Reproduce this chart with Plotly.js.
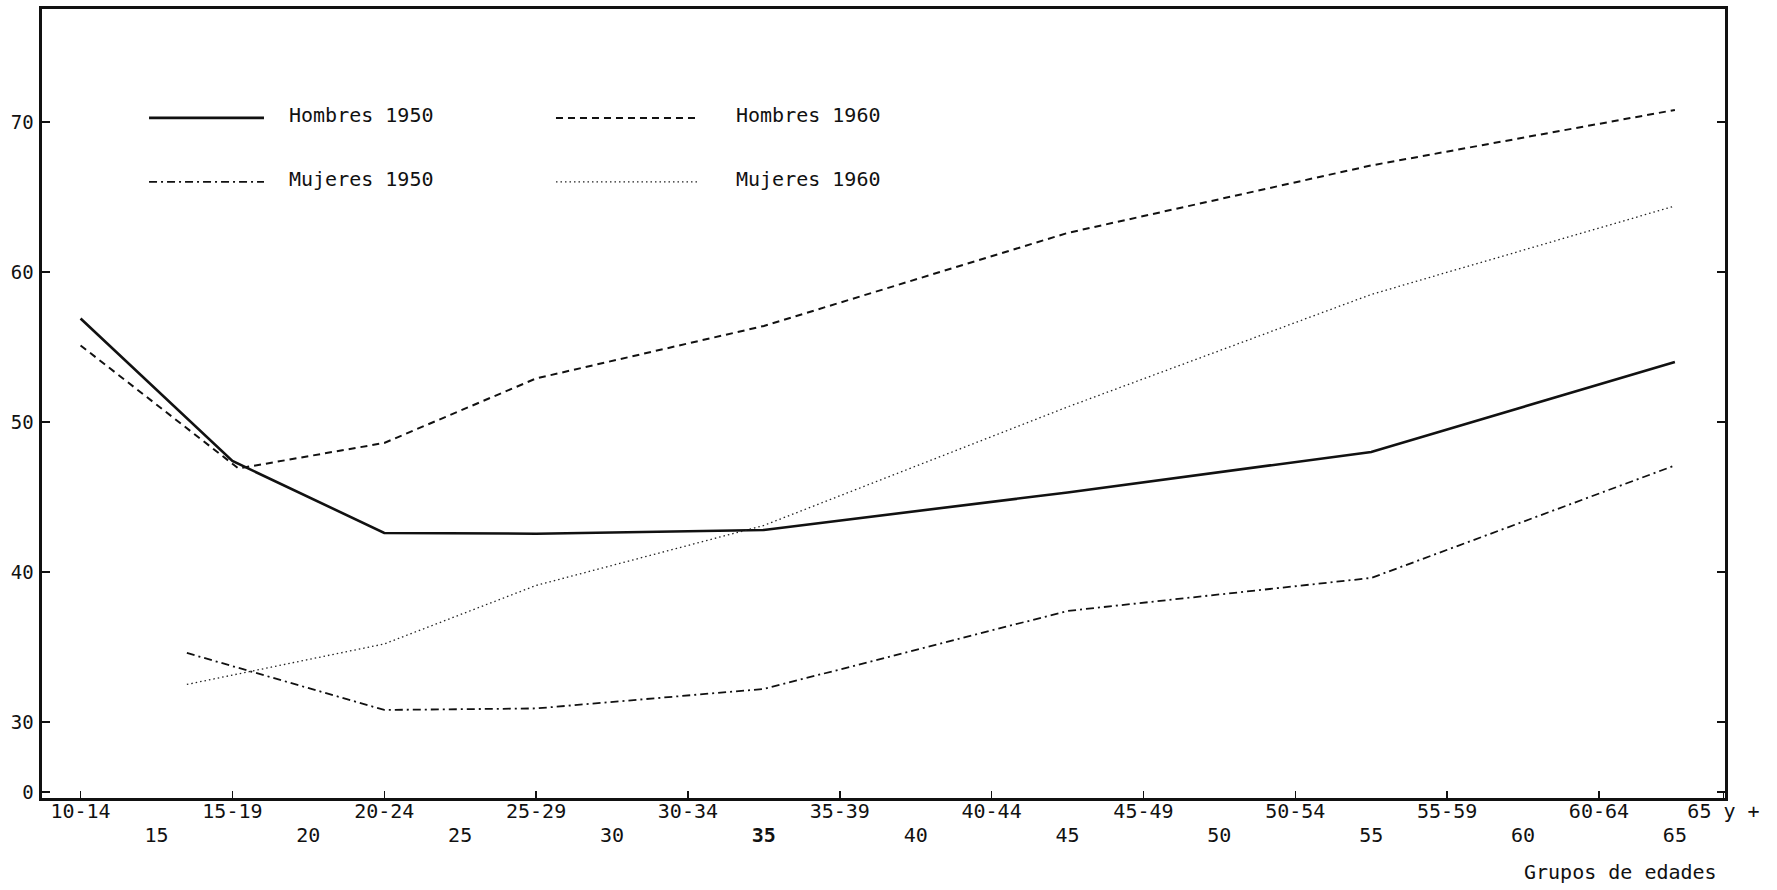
<!DOCTYPE html>
<html><head><meta charset="utf-8">
<script src="https://cdn.plot.ly/plotly-3.0.1.min.js"></script>
<style>html,body{margin:0;padding:0;background:#fff}#chart{width:1777px;height:890px}</style>
</head><body><div id="chart"></div>
<script>
// Series names
const seriesNames = ['Hombres 1950', 'Hombres 1960', 'Mujeres 1950', 'Mujeres 1960'];

// Ages (x positions on the age scale) and values
const hombres1950Age = [12.5, 17.5, 22.5, 27.5, 35, 45, 55, 65];
const hombres1950 = [56.9, 47.4, 42.6, 42.55, 42.8, 45.3, 48.0, 54.0];

const hombres1960Age = [12.5, 17.7, 22.5, 27.5, 35, 45, 55, 65];
const hombres1960 = [55.1, 46.9, 48.6, 52.9, 56.4, 62.6, 67.1, 70.8];

const mujeres1950Age = [16, 22.5, 27.5, 35, 45, 55, 65];
const mujeres1950 = [34.6, 30.8, 30.9, 32.2, 37.4, 39.6, 47.1];

const mujeres1960Age = [16, 22.5, 27.5, 35, 45, 55, 65];
const mujeres1960 = [32.5, 35.2, 39.1, 43.1, 51.0, 58.5, 64.4];

// Tick labels
const groupTickPos = [12.5, 17.5, 22.5, 27.5, 32.5, 37.5, 42.5, 47.5, 52.5, 57.5, 62.5, 66.6];
const groupTickText = ['10-14', '15-19', '20-24', '25-29', '30-34', '35-39', '40-44', '45-49', '50-54', '55-59', '60-64', '65 y +'];
const ageTickPos = [15, 20, 25, 30, 35, 40, 45, 50, 55, 60, 65];
const ageTickText = ['15', '20', '25', '30', '<b>35</b>', '40', '45', '50', '55', '60', '65'];
const yTickPos = [25.3, 30, 40, 50, 60, 70];
const yTickText = ['0', '30', '40', '50', '60', '70'];
const xTitle = 'Grupos de edades';

const FONT = 'DejaVu Sans Mono, Liberation Mono, monospace';
const styles = [
  {color: '#111', width: 2.6, dash: 'solid'},
  {color: '#111', width: 2.0, dash: '7px,5px'},
  {color: '#111', width: 1.8, dash: '8px,4px,2px,4px'},
  {color: '#222', width: 1.3, dash: '1.5px,3px'}
];

const xs = [hombres1950Age, hombres1960Age, mujeres1950Age, mujeres1960Age];
const ys = [hombres1950, hombres1960, mujeres1950, mujeres1960];

const traces = seriesNames.map((n, i) => ({
  type: 'scatter', mode: 'lines', name: n,
  x: xs[i], y: ys[i],
  xaxis: i === 3 ? 'x2' : 'x',
  line: {color: styles[i].color, width: styles[i].width, dash: styles[i].dash},
  showlegend: false, hoverinfo: 'x+y+name'
}));

// Legend drawn as samples + labels (2 columns x 2 rows)
const legendCols = [[0, 2], [1, 3]];
const legendLineX = [[0.0636, 0.1319], [0.3054, 0.3892]];
const legendTextX = [0.1456, 0.4112];
const legendRowY = [0.862, 0.781];
const shapes = [];
const annotations = [];
legendCols.forEach((col, c) => {
  col.forEach((si, r) => {
    shapes.push({type: 'line', xref: 'paper', yref: 'paper',
      x0: legendLineX[c][0], x1: legendLineX[c][1], y0: legendRowY[r], y1: legendRowY[r],
      line: {color: styles[si].color, width: styles[si].width, dash: styles[si].dash}});
    annotations.push({xref: 'paper', yref: 'paper', x: legendTextX[c], y: legendRowY[r] + 0.004,
      xanchor: 'left', yanchor: 'middle', showarrow: false, text: seriesNames[si],
      font: {family: FONT, size: 20, color: '#111'}});
  });
});
annotations.push({xref: 'paper', yref: 'paper', x: 0.938, y: -0.094, xanchor: 'center', yanchor: 'middle',
  showarrow: false, text: xTitle, font: {family: FONT, size: 20, color: '#111'}});

const layout = {
  width: 1777, height: 890,
  margin: {l: 42, r: 52, t: 9, b: 92},
  paper_bgcolor: '#fff', plot_bgcolor: '#fff',
  font: {family: FONT, color: '#111', size: 20},
  showlegend: false,
  xaxis: {
    range: [11.23, 66.65], tickmode: 'array', tickvals: groupTickPos, ticktext: groupTickText,
    ticks: 'inside', ticklen: 7, tickwidth: 1.5, tickcolor: '#111',
    showline: true, linewidth: 3, linecolor: '#111', mirror: true,
    showgrid: false, zeroline: false, tickfont: {family: FONT, size: 20, color: '#111'},
    ticklabelstandoff: -7
  },
  xaxis2: {
    matches: 'x', overlaying: 'x', anchor: 'y', side: 'bottom',
    range: [11.23, 66.65], tickmode: 'array', tickvals: ageTickPos, ticktext: ageTickText,
    ticks: '', showline: false, showgrid: false, zeroline: false,
    tickfont: {family: FONT, size: 20, color: '#111'}, ticklabelstandoff: 23
  },
  yaxis: {
    range: [24.93, 77.53], tickmode: 'array', tickvals: yTickPos, ticktext: yTickText,
    ticks: 'inside', ticklen: 8, tickwidth: 2, tickcolor: '#111',
    showline: true, linewidth: 2.6, linecolor: '#111', mirror: 'ticks',
    showgrid: false, zeroline: false, tickfont: {family: FONT, size: 19, color: '#111'},
    ticklabelstandoff: 2
  },
  shapes: shapes,
  annotations: annotations
};

Plotly.newPlot('chart', traces, layout, {displayModeBar: false, staticPlot: true});
</script>
</body></html>
